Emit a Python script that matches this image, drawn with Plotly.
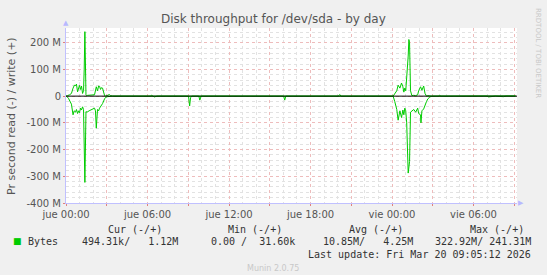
import plotly.graph_objects as go

# time in hours since "jue 00:00"
t_write = [0.0, 0.04, 0.11, 0.26, 0.40, 0.52, 0.63, 0.70, 0.77, 0.85, 0.92, 0.99, 1.07, 1.14, 1.22, 1.29, 1.34, 1.39, 1.47, 1.51, 1.60, 2.00, 2.10, 2.23, 2.32, 2.40, 2.47, 2.54, 2.62, 2.69, 2.76, 2.84, 2.91, 3.06, 3.20, 3.28, 3.43,
           6.20, 6.30, 6.40, 20.05, 20.15, 20.25,
           24.08, 24.20, 24.35, 24.45, 24.58, 24.70, 24.80, 24.87, 24.94, 25.01, 25.08, 25.19, 25.24, 25.29, 25.36, 25.46, 25.60, 25.74, 25.89, 25.96, 26.10, 26.20, 26.33, 26.43, 26.54, 26.64, 26.79, 26.94,
           27.40, 27.50, 27.60, 33.10]
write_M = [0, 0, 2, 5, 10, 30, 42, 38, 45, 16, 30, 40, 25, 38, 10, 20, 100, 241.31, 5, 2, 3, 4, 5, 35, 20, 38, 37, 25, 32, 30, 10, 2, 0, 3, 6, 2, 0,
           0, 3, 0, 0, 6, 0,
           0, 8, 20, 41, 30, 49, 35, 15, 30, 20, 60, 150, 212, 200, 20, 2, 3, 2, 5, 20, 35, 22, 38, 10, 0, 2, 1, 0,
           0, 3, 0, 1.12]

t_read = [0.0, 0.04, 0.18, 0.26, 0.40, 0.52, 0.60, 0.70, 0.77, 0.85, 0.92, 0.99, 1.07, 1.14, 1.22, 1.29, 1.39, 1.47, 1.55, 1.70, 1.90, 2.10, 2.17, 2.23, 2.32, 2.40, 2.47, 2.54, 2.69, 2.84, 2.91, 3.06, 3.20, 3.43,
          6.40, 6.50, 6.70, 7.60, 7.70, 7.80, 9.02, 9.10, 9.17, 9.25, 9.78, 9.85, 9.95, 16.02, 16.10, 16.18,
          24.08, 24.20, 24.35, 24.45, 24.58, 24.70, 24.80, 24.87, 24.94, 25.01, 25.08, 25.19, 25.24, 25.29, 25.36, 25.46, 25.60, 25.74, 25.89, 25.96, 26.10, 26.13, 26.20, 26.33, 26.43, 26.54, 26.64, 26.79, 26.94,
          31.00, 31.10, 31.40, 31.60, 32.20, 32.40, 33.10]
read_M = [0, 0, -8, -15, -30, -70, -55, -60, -50, -65, -55, -62, -45, -52, -40, -50, -322.92, -58, -60, -55, -50, -45, -55, -120, -50, -55, -45, -40, -28, -10, -5, -2, -1, 0,
          0, -3, 0, 0, -2, 0, 0, -37, -6, 0, 0, -15, 0, 0, -15, 0,
          0, -20, -50, -90, -55, -80, -52, -70, -45, -55, -100, -288, -250, -245, -60, -55, -50, -60, -45, -65, -70, -100, -55, -48, -30, -20, -10, -3, 0,
          0, -3, -2, 0, -2, 0, -0.49]

x_tickvals = [0, 3, 6, 9, 12, 15, 18, 21, 24, 27, 30, 33]
x_ticktext = ["jue 00:00", "", "jue 06:00", "", "jue 12:00", "", "jue 18:00", "", "vie 00:00", "", "vie 06:00", ""]
y_tickvals = [-400, -300, -200, -100, 0, 100, 200]
y_ticktext = ["-400 M", "-300 M", "-200 M", "-100 M", "0", "100 M", "200 M"]

legend_headers = ["Cur (-/+)", "Min (-/+)", "Avg (-/+)", "Max (-/+)"]
legend_values = ["494.31k/   1.12M", "0.00 /  31.60k", "10.85M/   4.25M", "322.92M/ 241.31M"]
series_name = "Bytes"
title_text = "Disk throughput for /dev/sda - by day"
last_update = "Last update: Fri Mar 20 09:05:12 2026"

GREEN = "#00cc00"
W, H = 547, 275
L, R, T, B = 66, 30, 28, 72
PW, PH = W - L - R, H - T - B

fig = go.Figure()
fig.add_trace(go.Scatter(x=t_write, y=write_M, mode="lines", line=dict(color=GREEN, width=1), showlegend=False, hoverinfo="skip"))
fig.add_trace(go.Scatter(x=t_read, y=read_M, mode="lines", line=dict(color=GREEN, width=1), showlegend=False, hoverinfo="skip"))

mono = "DejaVu Sans Mono"
sans = "DejaVu Sans"

def px_x(px):
    return (px - L) / PW

def px_y(py):
    return 1 - (py - T) / PH

def text_ann(text, x, y, size, color, family, xanchor="center", angle=0):
    return dict(text=text, x=px_x(x), y=px_y(y), xref="paper", yref="paper", showarrow=False,
                textangle=angle, font=dict(family=family, size=size, color=color),
                xanchor=xanchor, yanchor="middle")

ann = []
ann.append(text_ann(title_text, 273, 19, 12, "#555555", sans))
ann.append(text_ann("Pr second read (-) / write (+)", 11, 116, 11, "#555555", sans, angle=-90))
ann.append(text_ann("RRDTOOL / TOBI OETIKER", 538, 53, 7, "#c8c8c8", sans, angle=90))
hdr_right = [164, 284, 405, 526]
val_right = [180, 297, 415, 533]
for txt, xr in zip(legend_headers, hdr_right):
    ann.append(text_ann(txt, xr, 229, 10, "#333333", mono, xanchor="right"))
for txt, xr in zip(legend_values, val_right):
    ann.append(text_ann(txt.replace(" ", "&nbsp;"), xr, 241, 10, "#333333", mono, xanchor="right"))
ann.append(text_ann("■", 17, 241, 9, GREEN, sans))
ann.append(text_ann(series_name, 26, 241, 10, "#333333", mono, xanchor="left"))
ann.append(text_ann(last_update, 533, 254, 10, "#333333", mono, xanchor="right"))
ann.append(text_ann("Munin 2.0.75", 273, 268, 8, "#c8c8c8", sans))
ann.append(text_ann("▲", 66, 23, 7, "#b8b8ff", sans))
ann.append(text_ann("▶", 521, 203, 7, "#b8b8ff", sans))

fig.update_layout(
    width=W, height=H, margin=dict(l=L, r=R, t=T, b=B),
    paper_bgcolor="#f0f0f0", plot_bgcolor="#ffffff",
    annotations=ann, showlegend=False,
    shapes=[dict(type="line", xref="x domain", yref="y", x0=0, x1=1, y0=0, y1=0,
                 line=dict(color="#000000", width=1), layer="above")],
    xaxis=dict(range=[0, 33.2], tickmode="array", tickvals=x_tickvals, ticktext=x_ticktext,
               showgrid=True, gridcolor="#eebcbc", griddash="dot", gridwidth=1,
               zeroline=False, showline=True, linecolor="#c0c0ff", linewidth=1,
               ticks="outside", ticklen=2, tickcolor="#e08080",
               tickfont=dict(family=sans, size=10, color="#555555"),
               minor=dict(tickmode="linear", tick0=0, dtick=1, showgrid=True, gridcolor="#e2e2e2", griddash="dot", gridwidth=1)),
    yaxis=dict(range=[-400, 255], tickmode="array", tickvals=y_tickvals, ticktext=y_ticktext,
               showgrid=True, gridcolor="#eebcbc", griddash="dot", gridwidth=1,
               zeroline=False,
               showline=True, linecolor="#c0c0ff", linewidth=1,
               ticks="outside", ticklen=2, tickcolor="#e08080",
               tickfont=dict(family=sans, size=10, color="#555555"),
               minor=dict(tickmode="linear", tick0=0, dtick=20, showgrid=True, gridcolor="#e2e2e2", griddash="dot", gridwidth=1)),
)

fig.write_html("out.html")
